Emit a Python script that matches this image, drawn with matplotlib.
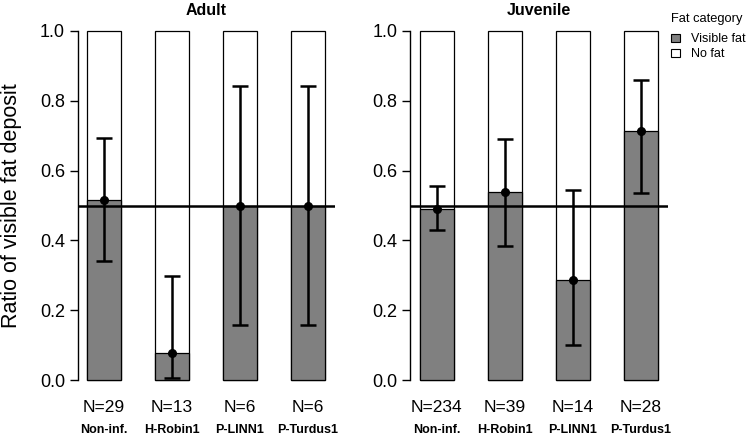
#!/usr/bin/env python
from __future__ import annotations

import matplotlib

matplotlib.use("Agg")
import matplotlib.pyplot as plt
from matplotlib.patches import Patch

plt.rcParams["font.family"] = ["Liberation Sans", "DejaVu Sans"]

categories = ["Non-inf.", "H-Robin1", "P-LINN1", "P-Turdus1"]
panel_titles = ["Adult", "Juvenile"]

adult_n = [29, 13, 6, 6]
adult_ratio = [0.517, 0.077, 0.5, 0.5]
adult_lo = [0.341, 0.005, 0.158, 0.158]
adult_hi = [0.694, 0.298, 0.843, 0.843]

juvenile_n = [234, 39, 14, 28]
juvenile_ratio = [0.491, 0.538, 0.286, 0.714]
juvenile_lo = [0.429, 0.384, 0.100, 0.535]
juvenile_hi = [0.557, 0.690, 0.544, 0.860]

y_ticks = [0.0, 0.2, 0.4, 0.6, 0.8, 1.0]
reference_line = 0.5

FAT_COLOR = "#808080"
W, H = 749, 436


def draw_panel(ax, title, n_values, ratios, lows, highs):
    x = [1.5 + 2 * i for i in range(len(categories))]
    ax.bar(x, [1.0] * len(x), width=1.0, color="white", edgecolor="black", linewidth=0.9, zorder=2)
    ax.bar(x, ratios, width=1.0, color=FAT_COLOR, edgecolor="black", linewidth=0.9, zorder=3)
    ax.axhline(reference_line, color="black", linewidth=1.8, zorder=4)
    yerr = [[r - lo for r, lo in zip(ratios, lows)], [hi - r for r, hi in zip(ratios, highs)]]
    ax.errorbar(x, ratios, yerr=yerr, fmt="o", color="black", markersize=5.5,
                elinewidth=1.8, capsize=6, capthick=1.8, zorder=5)

    ax.set_xlim(0.72, 8.28)
    ax.set_ylim(-0.04, 1.04)
    ax.set_xticks([])
    ax.set_yticks(y_ticks)
    ax.set_yticklabels([f"{t:.1f}" for t in y_ticks])
    ax.tick_params(axis="y", length=6, width=1.0, pad=3, labelsize=13)
    for side in ("top", "right", "bottom"):
        ax.spines[side].set_visible(False)
    ax.spines["left"].set_bounds(0, 1)
    ax.spines["left"].set_linewidth(1.0)
    ax.set_title(title, fontsize=11.5, fontweight="bold", pad=1.5, y=1.0)

    for xi, n, name in zip(x, n_values, categories):
        ax.text(xi, -0.080, f"N={n}", ha="center", va="center", fontsize=12.5, clip_on=False)
        ax.text(xi, -0.143, name, ha="center", va="center", fontsize=9, fontweight="bold", clip_on=False)


def main() -> None:
    fig = plt.figure(figsize=(W / 100, H / 100), dpi=100)
    bottom = 1 - 394 / H
    height = (394 - 17) / H
    ax_adult = fig.add_axes([77.5 / W, bottom, 257 / W, height])
    ax_juv = fig.add_axes([410 / W, bottom, 257.5 / W, height])

    draw_panel(ax_adult, panel_titles[0], adult_n, adult_ratio, adult_lo, adult_hi)
    draw_panel(ax_juv, panel_titles[1], juvenile_n, juvenile_ratio, juvenile_lo, juvenile_hi)

    fig.text(12 / W, 1 - 206 / H, "Ratio of visible fat deposit", rotation=90,
             ha="center", va="center", fontsize=15.5)

    handles = [
        Patch(facecolor=FAT_COLOR, edgecolor="black", linewidth=0.8, label="Visible fat"),
        Patch(facecolor="white", edgecolor="black", linewidth=0.8, label="No fat"),
    ]
    leg = fig.legend(handles=handles, title="Fat category", loc="upper left",
                     bbox_to_anchor=(671 / W, 1 - 13 / H), frameon=False, fontsize=9.0,
                     title_fontsize=9.3, handlelength=0.75, handleheight=0.7,
                     handletextpad=0.85, labelspacing=0.25, borderaxespad=0, borderpad=0)
    leg._legend_box.align = "left"
    leg._legend_box.sep = 6

    fig.savefig("out.png", dpi=100)
    plt.close(fig)


if __name__ == "__main__":
    main()
